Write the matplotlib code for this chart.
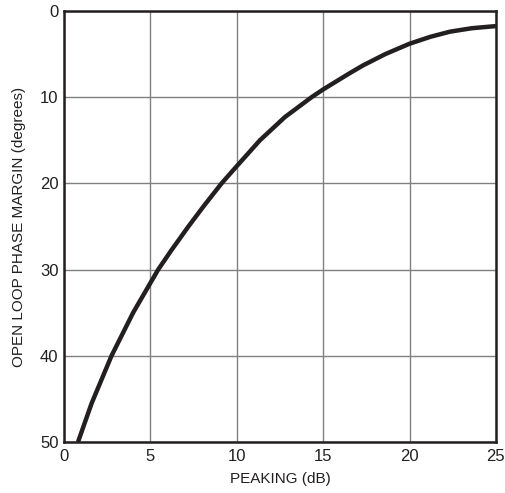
import matplotlib
matplotlib.use('Agg')
import matplotlib.pyplot as plt

# values
peaking_db = [0.81, 1.6, 2.75, 4.0, 5.45, 6.2, 7.2, 8.1, 9.12, 10.0, 11.34,
              12.79, 14.33, 15.0, 16.55, 17.32, 18.6, 20.0, 21.2, 22.34, 23.6, 25.0]
phase_margin = [50.0, 45.5, 40.0, 35.0, 30.0, 27.8, 25.0, 22.6, 20.0, 18.0, 15.0,
                12.3, 10.0, 9.1, 7.2, 6.3, 5.0, 3.8, 3.0, 2.4, 2.0, 1.75]

x_ticks = [0, 5, 10, 15, 20, 25]
y_ticks = [0, 10, 20, 30, 40, 50]

plt.rcParams['font.family'] = ['Liberation Sans', 'DejaVu Sans']

fig = plt.figure(figsize=(5.06, 4.93), dpi=100)
ax = fig.add_axes([0.1265, 0.1034, 0.8535, 0.8743])

ax.plot(peaking_db, phase_margin, color='#231f20', linewidth=3.2,
        solid_capstyle='butt', solid_joinstyle='round', zorder=3)

ax.set_xlim(0, 25)
ax.set_ylim(50, 0)
ax.set_xticks(x_ticks)
ax.set_yticks(y_ticks)
ax.grid(True, color='#808080', linewidth=1.0)
ax.tick_params(length=0, labelsize=12, colors='#231f20')
ax.tick_params(axis='x', pad=5)
ax.tick_params(axis='y', pad=4)
for sp in ax.spines.values():
    sp.set_linewidth(1.8)
    sp.set_color('#231f20')

ax.set_xlabel('PEAKING (dB)', fontsize=11, color='#231f20', labelpad=6)
ax.set_ylabel('OPEN LOOP PHASE MARGIN (degrees)', fontsize=11, color='#231f20', labelpad=10)

fig.savefig('out.png', dpi=100)
